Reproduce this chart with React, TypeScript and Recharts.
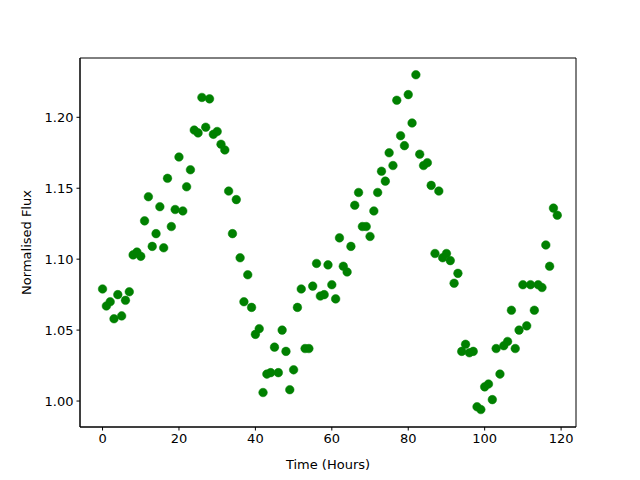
import React from "react";
import { ScatterChart, Scatter, XAxis, YAxis, Label, ReferenceArea } from "recharts";

const hours: number[] = Array.from({ length: 120 }, (_, i) => i);
const flux: number[] = [
  1.079, 1.067, 1.07, 1.058, 1.075, 1.06, 1.071, 1.077, 1.103, 1.105,
  1.102, 1.127, 1.144, 1.109, 1.118, 1.137, 1.108, 1.157, 1.123, 1.135,
  1.172, 1.134, 1.151, 1.163, 1.191, 1.189, 1.214, 1.193, 1.213, 1.188,
  1.19, 1.181, 1.177, 1.148, 1.118, 1.142, 1.101, 1.07, 1.089, 1.066,
  1.047, 1.051, 1.006, 1.019, 1.02, 1.038, 1.02, 1.05, 1.035, 1.008,
  1.022, 1.066, 1.079, 1.037, 1.037, 1.081, 1.097, 1.074, 1.075, 1.096,
  1.082, 1.072, 1.115, 1.095, 1.091, 1.109, 1.138, 1.147, 1.123, 1.123,
  1.116, 1.134, 1.147, 1.162, 1.155, 1.175, 1.166, 1.212, 1.187, 1.18,
  1.216, 1.196, 1.23, 1.174, 1.166, 1.168, 1.152, 1.104, 1.148, 1.101,
  1.104, 1.099, 1.083, 1.09, 1.035, 1.04, 1.034, 1.035, 0.996, 0.994,
  1.01, 1.012, 1.001, 1.037, 1.019, 1.039, 1.042, 1.064, 1.037, 1.05,
  1.082, 1.053, 1.082, 1.064, 1.082, 1.08, 1.11, 1.095, 1.136, 1.131,
];
const xTicks: number[] = [0, 20, 40, 60, 80, 100, 120];
const yTicks: number[] = [1.0, 1.05, 1.1, 1.15, 1.2];
const xDomain: [number, number] = [-5.9, 123.9];
const yDomain: [number, number] = [0.9817, 1.2418];

const data = hours.map((h, i) => ({ t: h, f: flux[i] }));

const FONT = "DejaVu Sans";
const tickStyle = { fontFamily: FONT, fontSize: 13, fill: "#000" };

const Dot = (props: any) => (
  <circle cx={props.cx} cy={props.cy} r={4.3} fill="#008000" stroke="#008000" strokeWidth={0.5} />
);

export default function App() {
  return (
    <div style={{ position: "absolute", left: 0, top: 0, width: 640, height: 480, background: "#fff" }}>
      <ScatterChart width={640} height={480} margin={{ top: 58, right: 64, bottom: 0, left: 0 }}>
        <XAxis
          dataKey="t"
          type="number"
          domain={xDomain}
          ticks={xTicks}
          allowDataOverflow
          height={53}
          tickSize={3.5}
          tickMargin={3}
          tick={tickStyle}
          tickLine={{ stroke: "#000" }}
          axisLine={{ stroke: "#000", strokeWidth: 1 }}
        >
          <Label
            value="Time (Hours)"
            position="insideBottom"
            offset={11}
            style={{ fontFamily: FONT, fontSize: 13, fill: "#000" }}
          />
        </XAxis>
        <YAxis
          dataKey="f"
          type="number"
          domain={yDomain}
          ticks={yTicks}
          allowDataOverflow
          width={80}
          tickSize={3.5}
          tickMargin={3}
          tick={tickStyle}
          tickFormatter={(v: number) => v.toFixed(2)}
          tickLine={{ stroke: "#000" }}
          axisLine={{ stroke: "#000", strokeWidth: 1 }}
        >
          <Label
            value="Normalised Flux"
            angle={-90}
            position="insideLeft"
            offset={0}
            dx={26}
            style={{ fontFamily: FONT, fontSize: 13, fill: "#000", textAnchor: "middle" }}
          />
        </YAxis>
        <ReferenceArea
          x1={xDomain[0]}
          x2={xDomain[1]}
          y1={yDomain[0]}
          y2={yDomain[1]}
          fill="none"
          fillOpacity={0}
          stroke="#000"
          strokeWidth={1}
          ifOverflow="visible"
        />
        <Scatter data={data} shape={Dot} isAnimationActive={false} />
      </ScatterChart>
    </div>
  );
}
